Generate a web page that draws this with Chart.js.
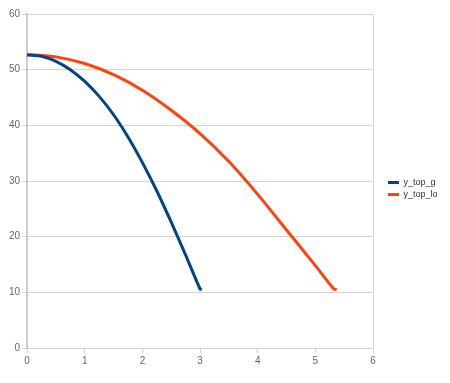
<!DOCTYPE html>
<html>
<head>
<meta charset="utf-8">
<script src="https://cdn.jsdelivr.net/npm/chart.js@4/dist/chart.umd.min.js"></script>
<style>
  html, body { margin: 0; padding: 0; background: #fff; }
  #wrap { width: 450px; height: 383px; }
</style>
</head>
<body>
<div id="wrap"><canvas id="trajChart"></canvas></div>
<script>
// time (x) and height (y)
const xG = [0, 0.25, 0.5, 0.75, 1.0, 1.25, 1.5, 1.75, 2.0, 2.25, 2.5, 2.75, 3.0, 3.03];
const yG = [52.7, 52.4, 51.5, 50.0, 47.9, 45.2, 41.9, 37.9, 33.3, 28.2, 22.6, 16.7, 10.6, 10.5];
const xLo = [0, 0.5, 1.0, 1.5, 2.0, 2.5, 3.0, 3.5, 4.0, 4.5, 5.0, 5.32, 5.37];
const yLo = [52.7, 52.3, 51.1, 49.1, 46.3, 42.7, 38.5, 33.5, 27.6, 21.2, 14.8, 10.6, 10.5];
const seriesNames = ['y_top_g', 'y_top_lo'];

const xMax = 6;
const textColor = '#666';
const gridColor = '#d4d4d4';
const legendWidth = 77;

function toPoints(xs, ys) {
    return xs.map((x, i) => ({ x: x, y: ys[i] }));
}

// keep the legend column a fixed width and nudge the entries like the original
const fixedLegend = {
    id: 'fixedLegend',
    beforeLayout(chart) {
        const lg = chart.legend;
        if (lg && !lg._patched) {
            const origFit = lg.fit;
            lg.fit = function () {
                origFit.call(this);
                this.width = legendWidth;
            };
            lg._patched = true;
        }
    },
    afterLayout(chart) {
        const lg = chart.legend;
        lg.left += 12;
        lg.right += 12;
        lg.top -= 3;
        lg.bottom -= 3;
    }
};

let ctx = document.getElementById('trajChart').getContext('2d');
let myChart = new Chart(ctx, {
    type: 'scatter',
    data: {
        datasets: [{
            label: seriesNames[0],
            data: toPoints(xG, yG),
            borderColor: '#004586',
            backgroundColor: '#004586',
        }, {
            label: seriesNames[1],
            data: toPoints(xLo, yLo),
            borderColor: '#ff420e',
            backgroundColor: '#ff420e',
        }]
    },
    plugins: [fixedLegend],
    options: {
        responsive: true,
        maintainAspectRatio: false,
        animation: false,
        layout: { padding: { top: 14, right: 0, bottom: 14, left: 7 } },
        elements: {
            point: { radius: 0, hoverRadius: 0 },
            line: { borderWidth: 3, tension: 0.2 }
        },
        datasets: { scatter: { showLine: true } },
        plugins: {
            tooltip: { enabled: false },
            legend: {
                position: 'right',
                labels: {
                    boxWidth: 11,
                    boxHeight: 3,
                    padding: 3,
                    color: '#333',
                    font: { family: 'Liberation Sans, Arial, sans-serif', size: 9 },
                    // flat swatches, no outline
                    generateLabels: function (chart) {
                        const items = Chart.defaults.plugins.legend.labels.generateLabels(chart);
                        items.forEach(it => { it.lineWidth = 0; });
                        return items;
                    }
                }
            }
        },
        scales: {
            x: {
                type: 'linear',
                min: 0,
                max: xMax,
                ticks: {
                    stepSize: 1,
                    color: textColor,
                    padding: 2,
                    font: { family: 'Liberation Sans, Arial, sans-serif', size: 10 }
                },
                grid: {
                    // only the right frame line is drawn inside the plot
                    color: (c) => (c.tick && c.tick.value === xMax) ? gridColor : 'rgba(0,0,0,0)',
                    tickColor: gridColor,
                    tickLength: 5
                },
                border: { color: gridColor }
            },
            y: {
                min: 0,
                max: 60,
                ticks: {
                    stepSize: 10,
                    color: textColor,
                    padding: 2,
                    font: { family: 'Liberation Sans, Arial, sans-serif', size: 10 }
                },
                grid: { color: gridColor, tickLength: 5 },
                border: { color: '#ccc', width: 2 }
            }
        }
    }
});
</script>
</body>
</html>
